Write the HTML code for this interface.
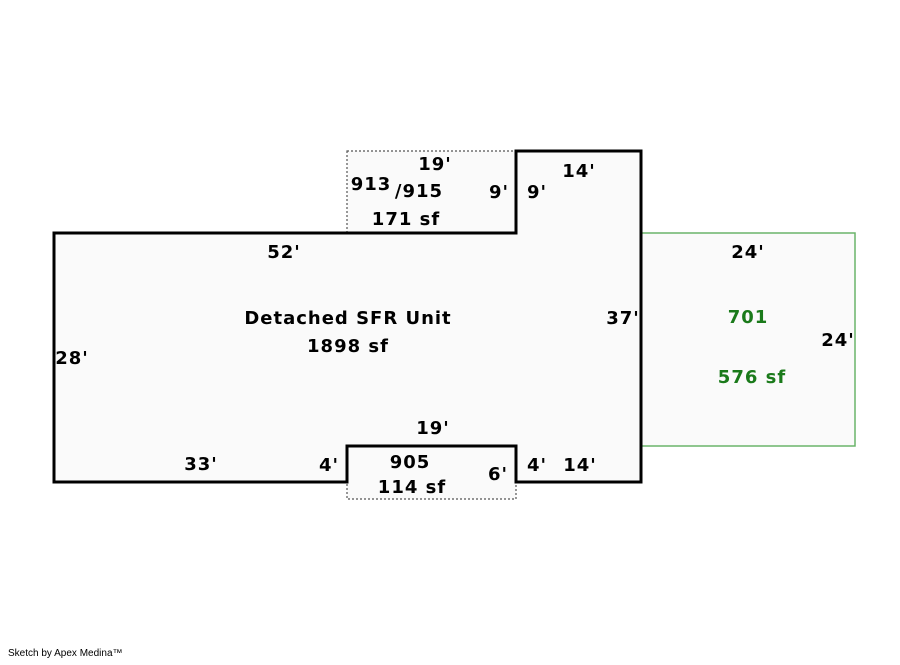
<!DOCTYPE html>
<html><head><style>body{margin:0;background:#fff}</style></head><body>
<svg width="900" height="660" xmlns="http://www.w3.org/2000/svg" font-family="DejaVu Sans, Liberation Sans, sans-serif" font-weight="bold" font-size="18" letter-spacing="1">
<rect x="641" y="233" width="214" height="213" fill="#fafafa" stroke="#6ab46a" stroke-width="1.5"/>
<rect x="347" y="151" width="169" height="82" fill="#fafafa" stroke="#555" stroke-width="1.2" stroke-dasharray="2,2"/>
<rect x="347" y="446" width="169" height="53" fill="#fafafa" stroke="#555" stroke-width="1.2" stroke-dasharray="2,2"/>
<path d="M54,233 H516 V151 H641 V482 H516 V446 H347 V482 H54 Z" fill="#fafafa" stroke="#000" stroke-width="3"/>
<g text-anchor="middle" fill="#000">
<text x="435" y="170">19'</text>
<text x="371" y="190">913</text>
<text x="419" y="197">/915</text>
<text x="406" y="225">171 sf</text>
<text x="499" y="198">9'</text>
<text x="537" y="198">9'</text>
<text x="579" y="177">14'</text>
<text x="284" y="258">52'</text>
<text x="348" y="324">Detached SFR Unit</text>
<text x="348" y="352">1898 sf</text>
<text x="72" y="364">28'</text>
<text x="623" y="324">37'</text>
<text x="433" y="434">19'</text>
<text x="201" y="470">33'</text>
<text x="329" y="471">4'</text>
<text x="410" y="468">905</text>
<text x="412" y="493">114 sf</text>
<text x="498" y="480">6'</text>
<text x="537" y="471">4'</text>
<text x="580" y="471">14'</text>
<text x="748" y="258">24'</text>
<text x="838" y="346">24'</text>
<text x="748" y="323" fill="#1a7a1a">701</text>
<text x="752" y="383" fill="#1a7a1a">576 sf</text>
</g>
<text x="8" y="656" font-weight="normal" font-size="10" letter-spacing="0" font-family="Liberation Sans, sans-serif">Sketch by Apex Medina™</text>
</svg>
</body></html>
